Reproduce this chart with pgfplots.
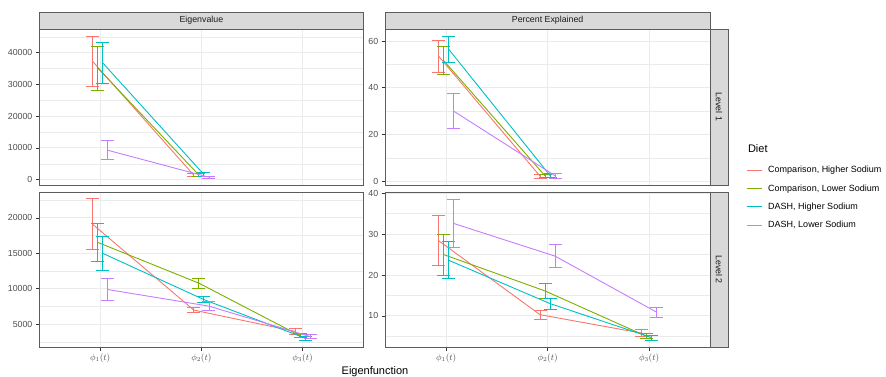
\documentclass[border=0pt]{standalone}
\usepackage{pgfplots}
\pgfplotsset{compat=1.18}
\usepackage{pgfplotstable}
\usepackage{fontspec}
\setmainfont{Liberation Sans}
\definecolor{cR}{HTML}{F8766D}
\definecolor{cG}{HTML}{7CAE00}
\definecolor{cC}{HTML}{00BFC4}
\definecolor{cP}{HTML}{C77CFF}
\definecolor{g20}{HTML}{333333}
\definecolor{g30}{HTML}{4D4D4D}
\definecolor{g10}{HTML}{1A1A1A}
\definecolor{g85}{HTML}{D9D9D9}
\definecolor{g92}{HTML}{EBEBEB}

% Eigenvalue, Level 1
\pgfplotstableread{
xr yr er xg yg eg xc yc ec xp yp ep
0.925 37300 7850 0.975 35200 6950 1.025 36800 6600 1.075 9250 2950
1.925 1400 550 1.975 1450 450 2.025 1600 500 2.075 750 350
}\TL
% Percent Explained, Level 1
\pgfplotstableread{
xr yr er xg yg eg xc yc ec xp yp ep
0.925 53.6 6.9 0.975 51.7 6.0 1.025 56.5 5.6 1.075 30.0 7.6
1.925 2.2 0.9 1.975 2.3 0.8 2.025 2.4 0.9 2.075 2.3 1.0
}\TR
% Eigenvalue, Level 2
\pgfplotstableread{
xr yr er xg yg eg xc yc ec xp yp ep
0.925 19100 3600 0.975 16550 2700 1.025 15000 2450 1.075 9900 1520
1.925 7000 380 1.975 10800 700 2.025 8480 420 2.075 7560 640
2.925 4000 420 2.975 3380 260 3.025 3050 300 3.075 3270 280
}\BL
% Percent Explained, Level 2
\pgfplotstableread{
xr yr er xg yg eg xc yc ec xp yp ep
0.925 28.4 6.1 0.975 25.0 5.0 1.025 23.6 4.55 1.075 32.6 5.8
1.925 10.3 1.1 1.975 16.1 1.9 2.025 13.0 1.35 2.075 24.6 2.85
2.925 5.8 0.85 2.975 5.0 0.6 3.025 4.7 0.6 3.075 10.9 1.25
}\BR

\pgfplotsset{
  panel/.style={
    scale only axis, anchor=south west,
    xmin=0.4, xmax=3.6, xtick={1,2,3},
    xmajorgrids, ymajorgrids, yminorgrids,
    major grid style={draw=g92, line width=0.9pt},
    minor grid style={draw=g92, line width=0.45pt},
    axis line style={draw=g20!80, line width=0.7pt},
    tick align=outside, major tick length=3.6pt, minor tick length=0pt,
    tick style={draw=g20, line width=0.7pt},
    tick pos=left,
    /pgf/number format/assume math mode=true,
    scaled y ticks=false,
    yticklabel style={font=\fontsize{8.8}{10}\selectfont, text=g30, /pgf/number format/.cd, fixed, 1000 sep={}},
    xticklabel style={font=\fontsize{9}{10}\selectfont, text=g30},
  },
  eb/.style={color=#1, line width=0.9pt, mark=none, forget plot,
    error bars/.cd, y dir=both, y explicit, error mark=|,
    error bar style={line width=0.9pt, draw=#1},
    error mark options={mark size=6.5pt, line width=0.9pt, draw=#1, color=#1}},
}

\begin{document}
\begin{tikzpicture}[x=1pt,y=1pt]
\path[use as bounding box] (0,0) rectangle (886,377);

% Top-left: Eigenvalue, Level 1
\begin{axis}[panel, at={(39.5pt,192pt)}, width=323.8pt, height=156pt,
  xmajorticks=false,
  ymin=-1700, ymax=47500, ytick={0,10000,20000,30000,40000},
  minor ytick={5000,15000,25000,35000,45000}]
\addplot[eb=cR] table[x=xr,y=yr,y error=er]{\TL};
\addplot[eb=cG] table[x=xg,y=yg,y error=eg]{\TL};
\addplot[eb=cC] table[x=xc,y=yc,y error=ec]{\TL};
\addplot[eb=cP] table[x=xp,y=yp,y error=ep]{\TL};
\end{axis}

% Top-right: Percent Explained, Level 1
\begin{axis}[panel, at={(385.3pt,192pt)}, width=324.7pt, height=156pt,
  xmajorticks=false,
  ymin=-1.6, ymax=65.2, ytick={0,20,40,60}, minor ytick={10,30,50},
  legend style={at={(axis description cs:1.111,0.13)}, anchor=north west,
    draw=none, fill=none, font=\fontsize{9}{10.5}\selectfont,
    row sep=7.2pt, inner sep=0pt, nodes={inner sep=1.5pt}},
  legend cell align=left,
  legend image code/.code={\draw[#1] (0pt,0pt) -- (15pt,0pt); \path (19.5pt,0pt);}]
\addplot[eb=cR] table[x=xr,y=yr,y error=er]{\TR};
\addplot[eb=cG] table[x=xg,y=yg,y error=eg]{\TR};
\addplot[eb=cC] table[x=xc,y=yc,y error=ec]{\TR};
\addplot[eb=cP] table[x=xp,y=yp,y error=ep]{\TR};
\addlegendimage{cR, line width=1pt}
\addlegendentry{Comparison, Higher Sodium}
\addlegendimage{cG, line width=1pt}
\addlegendentry{Comparison, Lower Sodium}
\addlegendimage{cC, line width=1pt}
\addlegendentry{DASH, Higher Sodium}
\addlegendimage{cP, line width=1pt}
\addlegendentry{DASH, Lower Sodium}
\end{axis}

% Bottom-left: Eigenvalue, Level 2
\begin{axis}[panel, at={(39.5pt,30pt)}, width=323.8pt, height=155pt,
  xticklabels={$\phi_1(t)$,$\phi_2(t)$,$\phi_3(t)$},
  ymin=1800, ymax=23650, ytick={5000,10000,15000,20000},
  minor ytick={2500,7500,12500,17500,22500}]
\addplot[eb=cR] table[x=xr,y=yr,y error=er]{\BL};
\addplot[eb=cG] table[x=xg,y=yg,y error=eg]{\BL};
\addplot[eb=cC] table[x=xc,y=yc,y error=ec]{\BL};
\addplot[eb=cP] table[x=xp,y=yp,y error=ep]{\BL};
\end{axis}

% Bottom-right: Percent Explained, Level 2
\begin{axis}[panel, at={(385.3pt,30pt)}, width=324.7pt, height=155pt,
  xticklabels={$\phi_1(t)$,$\phi_2(t)$,$\phi_3(t)$},
  ymin=2.4, ymax=40.3, ytick={10,20,30,40}, minor ytick={5,15,25,35}]
\addplot[eb=cR] table[x=xr,y=yr,y error=er]{\BR};
\addplot[eb=cG] table[x=xg,y=yg,y error=eg]{\BR};
\addplot[eb=cC] table[x=xc,y=yc,y error=ec]{\BR};
\addplot[eb=cP] table[x=xp,y=yp,y error=ep]{\BR};
\end{axis}

% strips
\begin{scope}[line width=0.7pt]
\draw[draw=g20!80, fill=g85] (39.5,348) rectangle (363.3,365);
\draw[draw=g20!80, fill=g85] (385.3,348) rectangle (710,365);
\draw[draw=g20!80, fill=g85] (710,192) rectangle (728,348);
\draw[draw=g20!80, fill=g85] (710,30) rectangle (728,185);
\end{scope}
\node[font=\fontsize{8.8}{10}\selectfont, text=g10] at (201.4,356.5) {Eigenvalue};
\node[font=\fontsize{8.8}{10}\selectfont, text=g10] at (547.6,356.5) {Percent Explained};
\node[font=\fontsize{8.8}{10}\selectfont, text=g10, rotate=-90] at (719,270) {Level 1};
\node[font=\fontsize{8.8}{10}\selectfont, text=g10, rotate=-90] at (719,107.5) {Level 2};

% titles
\node[font=\fontsize{11}{12}\selectfont, anchor=west] at (744.5,228) {Diet};
\node[font=\fontsize{11}{12}\selectfont, anchor=base] at (375,2.8) {Eigenfunction};
\end{tikzpicture}
\end{document}
